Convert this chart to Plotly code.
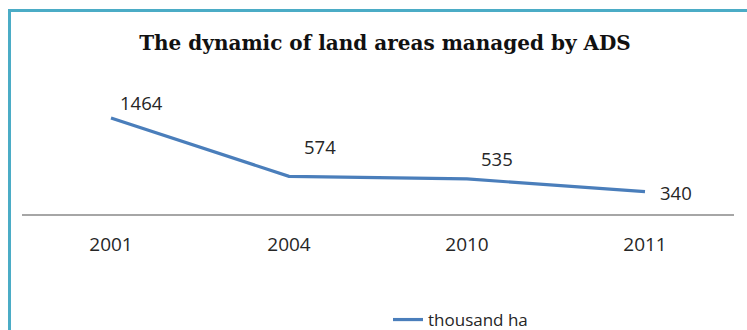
import plotly.graph_objects as go

years = ["2001", "2004", "2010", "2011"]
land_area = [1464, 574, 535, 340]
series_name = "thousand ha"
title_text = "The dynamic of land areas managed by ADS"

W, H = 747, 330
ML, MR, MT, MB = 22, 13, 109, 116
plot_w = W - ML - MR
plot_h = H - MT - MB

fig = go.Figure()
fig.add_trace(go.Scatter(
    x=years, y=land_area, mode="lines", name=series_name,
    line=dict(color="#4A7EBB", width=3.2),
))

# value labels, offset up/right of each point (x given as category index)
offsets = [(30, 15), (31, 30), (30, 20), (31, -1)]
for i, (val, (dx, dy)) in enumerate(zip(land_area, offsets)):
    fig.add_annotation(
        x=i, y=val, xref="x", yref="y", text=str(val), showarrow=False,
        xshift=dx, yshift=dy,
        font=dict(family="Open Sans", size=18.5, color="#262626"),
    )

# teal frame around the chart area
def px_x(p):
    return (p - ML) / plot_w

def px_y(p):
    return (H - MB - p) / plot_h

fig.add_shape(
    type="rect", xref="paper", yref="paper",
    x0=px_x(9.5), x1=px_x(900), y0=px_y(10.5), y1=px_y(900),
    line=dict(color="#4BACC6", width=3), layer="below",
)

fig.update_layout(
    width=W, height=H,
    margin=dict(l=ML, r=MR, t=MT, b=MB),
    paper_bgcolor="white", plot_bgcolor="white",
    title=dict(
        text=f"<b>{title_text}</b>", x=385 / W, xanchor="center",
        y=1 - 43 / H, yanchor="middle",
        font=dict(family="DejaVu Serif", size=20, color="#111111"),
    ),
    xaxis=dict(
        type="category", range=[-0.5, 3.5],
        showline=True, linecolor="#A6A6A6", linewidth=1.5,
        showgrid=False, ticks="", zeroline=False,
        tickfont=dict(family="Open Sans", size=19, color="#262626"),
        ticklabelstandoff=12,
    ),
    yaxis=dict(
        range=[0, 1600], visible=False, showgrid=False, zeroline=False,
    ),
    showlegend=True,
    legend=dict(
        orientation="h", x=384 / W, xanchor="left",
        yref="container", y=1 - 320 / H, yanchor="middle",
        font=dict(family="Open Sans", size=17, color="#262626"),
        itemwidth=30,
    ),
)

fig.write_html("out.html")
